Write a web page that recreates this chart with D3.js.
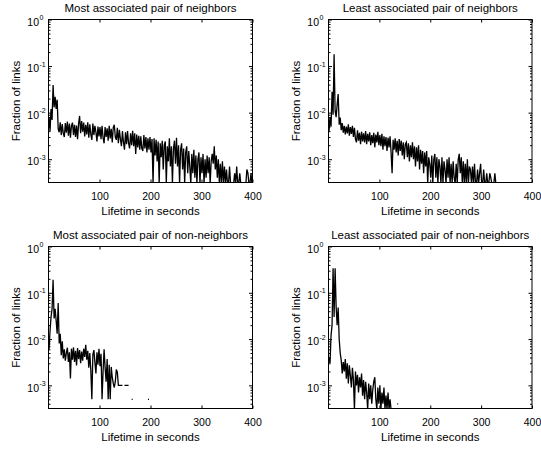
<!DOCTYPE html>
<html><head><meta charset="utf-8">
<script src="https://cdn.jsdelivr.net/npm/d3@7"></script>
<style>
body{margin:0;background:#fff}
svg{display:block}
text{font-family:"Liberation Sans",Arial,Helvetica,sans-serif;fill:#000}
</style>
</head><body>
<svg id="chart" width="541" height="450"></svg>
<script>
// Lifetime bins (seconds): first bin centre and bin width
const binStart = 1, binStep = 2;

const titles = [
  "Most associated pair of neighbors",
  "Least associated pair of neighbors",
  "Most associated pair of non-neighbors",
  "Least associated pair of non-neighbors"
];
const xLabel = "Lifetime in seconds";
const yLabel = "Fraction of links";
const xTicks = [100, 200, 300, 400];
const yTickExps = [0, -1, -2, -3];

// Fraction of links per lifetime bin (null = empty bin)
const mostNeighbors = [
  .008,.004,.012,.007,.039,.013,.022,.012,.019,.0045,
  .0038,.0062,.0033,.0057,.0036,.003,.006,.0037,.0064,.0032,
  .0058,.0029,.0052,.0061,.0033,.0055,.003,.0053,.0027,.0058,
  .0085,.0036,.0066,.0039,.0061,.0031,.0055,.0034,.0062,.0029,
  .0056,.0034,.0026,.0058,.0033,.0052,.0038,.0024,.005,.0031,
  .0049,.0027,.0052,.0029,.0022,.0049,.003,.0046,.0025,.0052,
  .0028,.0045,.0023,.0048,.0055,.003,.0026,.0047,.0022,.0043,
  .0027,.0019,.004,.0023,.0016,.0038,.0021,.004,.0022,.0017,
  .0036,.002,.0041,.0019,.0036,.0013,.0034,.0018,.0032,.0016,
  .0031,.0017,.0015,.0033,.0017,.003,.0014,.0028,.0016,.003,
  .0014,.0027,.0003,.0028,.0012,.0026,.0009,.0024,.0003,.0022,
  .0011,.0025,.0006,.002,.0024,.0003,.0019,.0009,.0028,.0007,
  .0019,.0003,.0017,.0025,.0008,.0029,.0007,.002,.0003,.0016,
  .0022,.0006,.0017,.0003,.0014,.0019,.0005,.0015,.0007,.0003,
  .0013,.0005,.0016,.0004,.0012,.0003,.001,.0014,.0003,.0011,
  .0005,.0013,.0003,.001,.0004,.0012,.0005,.0011,.0003,.0009,
  .0013,.0008,.0019,.0006,.0012,.0004,.001,.0003,.0008,.0003,
  .0009,.0003,.0007,.0003,.0006,.0003,.0003,.0007,.0003,.0003,
  .0003,.0003,.0005,.0003,.0007,.0003,.0003,.0005,.0003,.0003,
  .0003,.0003,.0003,.0003,.0006,.0005,.0003,.0003,.0005,.0003
];
const leastNeighbors = [
  .004,.008,.005,.028,.009,.18,.011,.008,.015,.025,
  .0055,.0078,.0042,.006,.0037,.0052,.0034,.005,.0036,.0056,
  .0032,.0049,.0035,.0052,.003,.0047,.0027,.0023,.0042,.0025,
  .0037,.0021,.0039,.0024,.0036,.0023,.004,.0021,.0035,.0024,
  .0038,.002,.0033,.0022,.0037,.0018,.0034,.0023,.0039,.002,
  .0033,.0019,.0035,.0016,.0031,.0019,.003,.0015,.0029,.0018,
  .0031,.0014,.0005,.0026,.0016,.0028,.0014,.0025,.0012,.0027,
  .0015,.0025,.0012,.0023,.001,.0021,.0023,.0011,.0022,.0009,
  .002,.0011,.0023,.001,.0019,.0007,.0018,.0009,.002,.0006,
  .0016,.0008,.0015,.0005,.0014,.0007,.0015,.0003,.0011,.0008,
  .0004,.0012,.0003,.001,.0013,.0004,.0011,.0003,.001,.0007,
  .0003,.0011,.0003,.0009,.0006,.0003,.001,.0004,.0011,.0003,
  .0008,.0003,.0009,.0004,.0003,.0008,.0003,.001,.0013,.0005,
  .0011,.0003,.0009,.0003,.0008,.0003,.001,.0003,.0007,.0006,
  .0003,.0007,.0003,.0008,.0003,.0003,.0006,.0003,.0005,.0008,
  .0003,.0003,.0006,.0003,.0003,.0005,.0003,.0003,.0005,.0004,
  .0003,.0003,.0003,.0005,.0003,.0003
];
const mostNonNeighbors = [
  .006,.015,.03,.045,.19,.028,.045,.025,.013,.06,
  .008,.013,.0045,.009,.0038,.006,.0034,.005,.0065,.0032,
  .0052,.0014,.0062,.0036,.0066,.0032,.0056,.0027,.0064,.0037,
  .0058,.003,.0054,.0034,.0062,.0041,.0075,.0036,.0056,.0024,
  .005,.0021,.0005,.0046,.0058,.0031,.0018,.0052,.0028,.0062,
  .0026,.0048,.0005,.002,.006,.0024,.0012,.0037,.0005,.0028,
  .0005,.0025,.0015,.0011,.0009,.0012,.0022,.0019,.001,.001,
  .001,.001,.001,null,.001,.001,.001,.001,.001,null,
  null,.0005,.0005,null,null,null,null,null,null,null,
  null,null,null,null,null,null,null,.0005,.0005,null
];
const leastNonNeighbors = [
  .004,.003,.012,.02,.34,.03,.34,.05,.02,.048,
  .01,.005,.0035,.0018,.0032,.002,.0037,.0014,.003,.0011,
  .0027,.0016,.0009,.0024,.0013,.0003,.002,.001,.0017,.0007,
  .0015,.0009,.0018,.0006,.0013,.0005,.0012,.0007,.0003,.0011,
  .0005,.001,.0004,.0008,.0012,.0015,.0005,.0003,.0009,.0004,
  .001,.0003,.0007,.0004,.0009,.0003,.0006,.0003,.0007,.0003,
  .0005,.0003,null,null,null,null,null,.0004,.0004
];

const series = [mostNeighbors, leastNeighbors, mostNonNeighbors, leastNonNeighbors];

const panels = [
  {left: 48.5, top: 19.5, w: 204, h: 163},
  {left: 328.5, top: 19.5, w: 203.5, h: 163},
  {left: 48.5, top: 246.5, w: 204, h: 162},
  {left: 328.5, top: 246.5, w: 203.5, h: 162}
];

const svg = d3.select("#chart");
const yMin = Math.pow(10, -3.5);
const majorY = yTickExps.map(e => Math.pow(10, e));
const minorY = [];
for (let k = -4; k < 0; k++) for (let m = 2; m <= 9; m++) {
  const v = m * Math.pow(10, k);
  if (v >= yMin && v <= 1) minorY.push(v);
}

panels.forEach((p, idx) => {
  const g = svg.append("g");
  const x = d3.scaleLinear().domain([0, 400]).range([p.left, p.left + p.w]);
  const y = d3.scaleLog().domain([yMin, 1]).range([p.top + p.h, p.top]);

  const clipId = "clip" + idx;
  svg.append("defs").append("clipPath").attr("id", clipId)
    .append("rect").attr("x", p.left).attr("y", p.top).attr("width", p.w).attr("height", p.h);

  const data = series[idx].map((v, i) => [binStart + i * binStep, v]);
  const line = d3.line().defined(d => d[1] != null).x(d => x(d[0])).y(d => y(d[1]));
  g.append("path").datum(data).attr("d", line)
    .attr("fill", "none").attr("stroke", "#000").attr("stroke-width", 1.3)
    .attr("stroke-linejoin", "miter")
    .attr("clip-path", `url(#${clipId})`);

  const styleAxis = sel => { sel.select(".domain").remove(); sel.selectAll("line").attr("stroke", "#000"); };

  const bx = g.append("g").attr("transform", `translate(0,${p.top + p.h})`)
    .call(d3.axisBottom(x).tickValues(xTicks).tickSize(-3).tickPadding(10).tickFormat(d3.format("d")))
    .call(styleAxis);
  bx.attr("font-family", null).attr("font-size", null);
  bx.selectAll("text").style("font-size", "10.5px").style("font-family", '"Liberation Sans",Arial,sans-serif');

  g.append("g").attr("transform", `translate(0,${p.top})`)
    .call(d3.axisTop(x).tickValues(xTicks).tickSize(-3).tickFormat(""))
    .call(styleAxis);

  [[d3.axisLeft, p.left], [d3.axisRight, p.left + p.w]].forEach(([ax, pos]) => {
    g.append("g").attr("transform", `translate(${pos},0)`)
      .call(ax(y).tickValues(majorY).tickSize(-3.5).tickFormat(""))
      .call(styleAxis);
    g.append("g").attr("transform", `translate(${pos},0)`)
      .call(ax(y).tickValues(minorY).tickSize(-2).tickFormat(""))
      .call(styleAxis);
  });

  g.append("rect").attr("x", p.left).attr("y", p.top).attr("width", p.w).attr("height", p.h)
    .attr("fill", "none").attr("stroke", "#000").attr("stroke-width", 1);

  yTickExps.forEach(e => {
    const ty = y(Math.pow(10, e));
    g.append("text").attr("x", p.left - 9.5).attr("y", ty + 6.2)
      .attr("text-anchor", "end").style("font-size", "10.5px").text("10");
    g.append("text").attr("x", p.left - 9).attr("y", ty + 0.5)
      .attr("text-anchor", "start").style("font-size", "7px").text(String(e));
  });

  g.append("text").attr("x", p.left + p.w / 2).attr("y", p.top - 7.3)
    .attr("text-anchor", "middle").style("font-size", "11.5px").text(titles[idx]);

  g.append("text").attr("x", p.left + p.w / 2).attr("y", p.top + p.h + 32)
    .attr("text-anchor", "middle").style("font-size", "11.5px").text(xLabel);

  g.append("text")
    .attr("transform", `translate(${p.left - 28.5},${p.top + p.h / 2}) rotate(-90)`)
    .attr("text-anchor", "middle").style("font-size", "11.5px").text(yLabel);
});
</script>
</body></html>
